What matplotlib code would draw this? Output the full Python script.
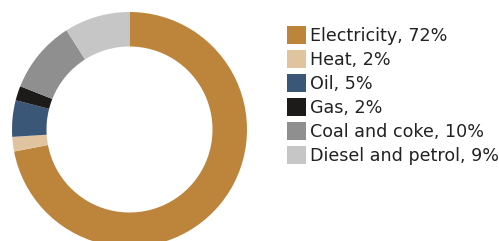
import matplotlib
matplotlib.use("Agg")
import matplotlib.pyplot as plt
from matplotlib.patches import Rectangle

labels = ["Electricity", "Heat", "Oil", "Gas", "Coal and coke", "Diesel and petrol"]
shares = [72, 2, 5, 2, 10, 9]
colors = ["#bd853c", "#e0c4a0", "#3a5778", "#1c1b19", "#8f8f8f", "#c6c6c6"]

W, H = 499, 241
fig = plt.figure(figsize=(W / 100, H / 100), dpi=100)

# donut: centre (129.5, 129.5) px from top-left, outer radius 117.5 px
cx, cy, r = 129.5, 129.5, 117.5
ax = fig.add_axes([(cx - r) / W, (H - cy - r) / H, 2 * r / W, 2 * r / H])
ax.pie(shares, colors=colors, startangle=90, counterclock=False,
       radius=1, wedgeprops=dict(width=1 - 83 / 117.5, linewidth=0))
ax.set_xlim(-1, 1)
ax.set_ylim(-1, 1)
ax.set_aspect("equal")
ax.axis("off")

# legend, drawn by hand in pixel positions
for i, (lab, val, col) in enumerate(zip(labels, shares, colors)):
    top = 26 + 24 * i
    fig.patches.append(Rectangle((287 / W, 1 - (top + 18) / H), 19 / W, 18 / H,
                                 transform=fig.transFigure, facecolor=col,
                                 edgecolor="none"))
    fig.text(310 / W, 1 - (top + 10) / H, f"{lab}, {val}%", fontsize=12.6,
             color="#222222", va="center", ha="left", family="DejaVu Sans")

fig.savefig("out.png", dpi=100)
